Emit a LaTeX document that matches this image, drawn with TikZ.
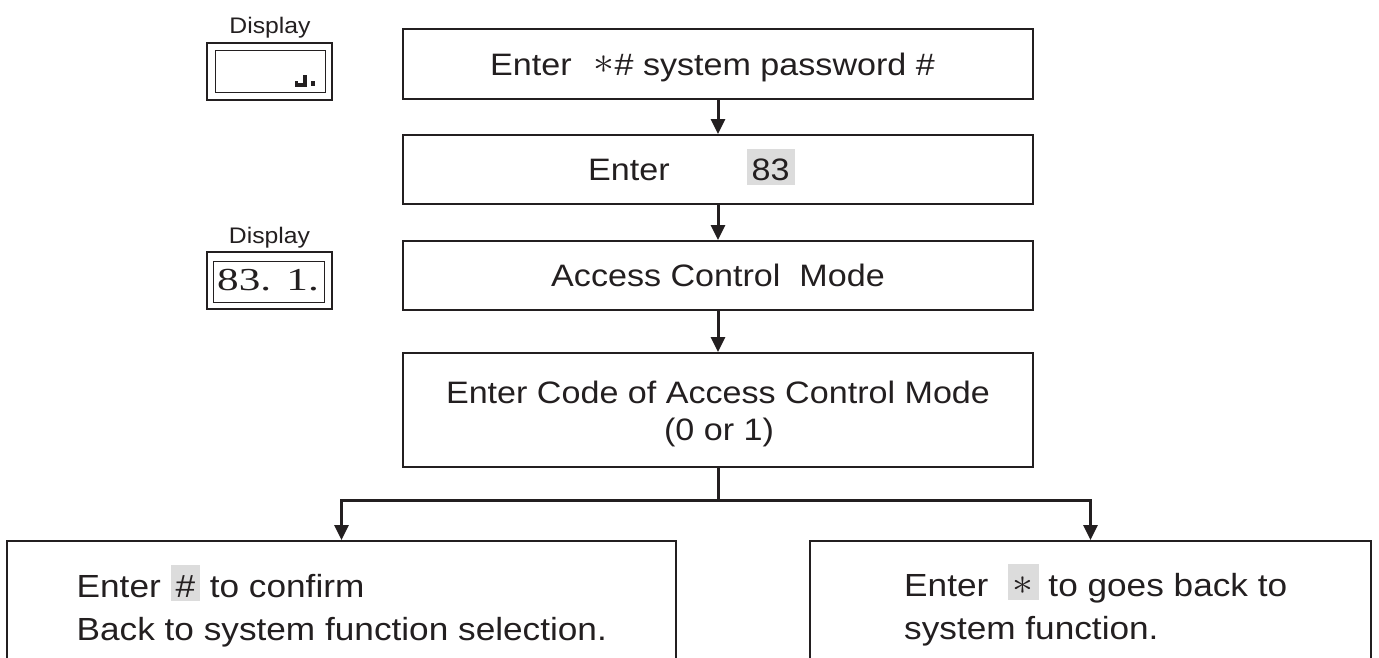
\documentclass[tikz,border=0pt]{standalone}
\usepackage{fontspec}
\usepackage{graphicx}
\setmainfont{Liberation Sans}
\newfontfamily\dispfont{Liberation Serif}
\usetikzlibrary{arrows.meta}

\definecolor{ink}{RGB}{35,31,32}
\definecolor{keygray}{RGB}{220,220,220}

% widened lettering used throughout the chart
\newcommand\wt[1]{\scalebox{1.1}[1]{#1}}
% grey key cap behind a key symbol
\newcommand\keycap[1]{{\setlength{\fboxsep}{0pt}\colorbox{keygray}{\rule[-4pt]{0pt}{36pt}\hspace{4.5pt}#1\hspace{4.5pt}}}}
% star key symbol
\newcommand\astsym{\raisebox{1.5pt}{\fontsize{10}{12}\selectfont\scalebox{3.8}{$\ast$}}}

\begin{document}
\begin{tikzpicture}[x=1pt,y=-1pt,
  box/.style={draw=ink,line width=2pt,inner sep=0pt,rectangle},
  dispout/.style={draw=ink,line width=2.5pt,inner sep=0pt,rectangle},
  dispin/.style={draw=ink,line width=1pt,inner sep=0pt,rectangle},
  conn/.style={draw=ink,line width=3pt},
  arr/.style={conn,-{Triangle[width=14pt,length=15pt]}},
  txt/.style={inner sep=0pt,text=ink,font=\fontsize{31}{37}\selectfont},
  btxt/.style={inner sep=0pt,text=ink,font=\fontsize{32}{38}\selectfont},
  lbl/.style={inner sep=0pt,text=ink,font=\fontsize{22.5}{27}\selectfont},
  digits/.style={inner sep=0pt,text=ink,font=\dispfont\fontsize{32}{36}\selectfont}]

\useasboundingbox (0,0) rectangle (1379,657);

% main column of steps
\node[box,minimum width=630,minimum height=70]  (b1) at (718,64)    {};
\node[box,minimum width=630,minimum height=69]  (b2) at (718,169.5) {};
\node[box,minimum width=630,minimum height=69]  (b3) at (718,275.5) {};
\node[box,minimum width=630,minimum height=114] (b4) at (718,410)   {};

% the two outcome boxes run off the lower edge
\node[box,minimum width=669,minimum height=140] (bl) at (341.5,611)  {};
\node[box,minimum width=561,minimum height=140] (br) at (1090.5,611) {};

% step texts
\node[txt,anchor=base west] (t1) at (490,75)
  {\wt{Enter\hspace{20pt}\astsym\#~system password~\#}};
\node[txt,anchor=base west] (t2) at (588,180.5)
  {\wt{Enter\hspace{70pt}\keycap{83}}};
\node[txt,anchor=base] (t3) at (718,286.5)
  {\wt{Access Control\ \ Mode}};
\node[txt,anchor=base] (t4a) at (718,403)
  {\wt{Enter Code of Access Control Mode}};
\node[txt,anchor=base] (t4b) at (719,440)
  {\wt{(0 or 1)}};

\node[btxt,anchor=base west] (l1) at (76.5,597)
  {\wt{Enter \keycap{\#} to confirm}};
\node[btxt,anchor=base west] (l2) at (76.5,640)
  {\wt{Back to system function selection.}};
\node[btxt,anchor=base west] (r1) at (904,596)
  {\wt{Enter\ \ \keycap{\astsym} to goes back to}};
\node[btxt,anchor=base west] (r2) at (904,639)
  {\wt{system function.}};

% connectors
\draw[arr] (b1.south) -- (b2.north);
\draw[arr] (b2.south) -- (b3.north);
\draw[arr] (b3.south) -- (b4.north);
\coordinate (split) at (718,500);
\draw[conn] (b4.south) -- (split);
\draw[arr] (split) -| (bl.north);
\draw[arr] (split) -| (br.north);

% display panel after the password
\node[lbl,anchor=base] (dl1) at (270,33) {\wt{Display}};
\node[dispout,minimum width=125,minimum height=57] (d1) at (269.5,71.5) {};
\node[dispin,minimum width=110,minimum height=42] (d1i) at (270,71) {};
\fill[ink] (294.5,80.5) rectangle (297.5,86.5);
\fill[ink] (294.5,83) rectangle (306.5,86.5);
\fill[ink] (302.8,74.5) rectangle (306.5,86.5);
\fill[ink] (310.8,80.5) rectangle (314.5,85.5);

% display panel after the function number
\node[lbl,anchor=base] (dl2) at (269.5,243) {\wt{Display}};
\node[dispout,minimum width=125,minimum height=57] (d2) at (269.5,280.5) {};
\node[dispin,minimum width=111,minimum height=41] (d2i) at (268.5,281.5) {};
\node[digits,anchor=base west] (dg1) at (217,290) {\scalebox{1.35}[1]{83.}};
\node[digits,anchor=base east] (dg2) at (319,290) {\scalebox{1.35}[1]{1.}};
\end{tikzpicture}
\end{document}
